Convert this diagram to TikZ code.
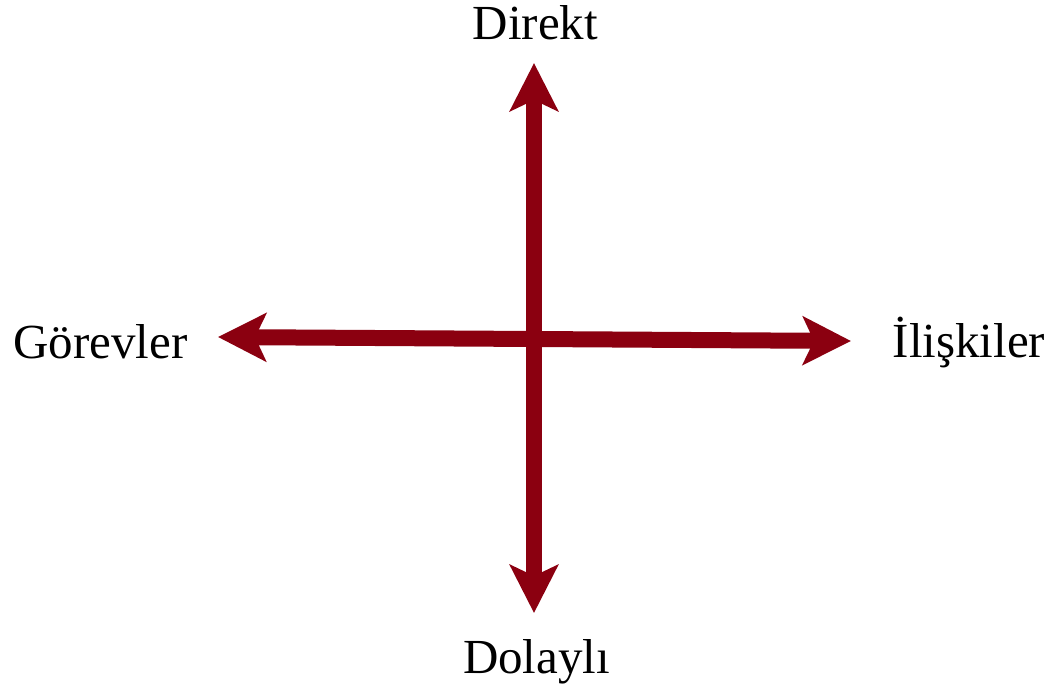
\documentclass[tikz,border=0pt]{standalone}
\usepackage{fontspec}
\setmainfont{Liberation Serif}
\usetikzlibrary{arrows.meta}
\definecolor{axisred}{HTML}{8B0010}
\begin{document}
\begin{tikzpicture}[x=1pt,y=-1pt,
  axis/.style={draw=axisred,line width=16pt,{Stealth[length=48pt,width=48pt,inset=11pt]}-{Stealth[length=48pt,width=48pt,inset=11pt]}},
  lbl/.style={inner sep=0pt,anchor=base,font=\fontsize{49}{54}\selectfont}]
\useasboundingbox (0,0) rectangle (1051,686);
\coordinate (top) at (534,63);
\coordinate (bot) at (534,613);
\coordinate (lft) at (218,337);
\coordinate (rgt) at (851,341);
\draw[axis] (lft) -- (rgt);
\draw[axis] (top) -- (bot);
\node[lbl] (direkt) at (535.5,39) {Direkt};
\node[lbl] (dolayli) at (536.5,673) {Dolaylı};
\node[lbl] (gorevler) at (100.5,358) {Görevler};
\node[lbl] (iliskiler) at (969,357) {İlişkiler};
\end{tikzpicture}
\end{document}
